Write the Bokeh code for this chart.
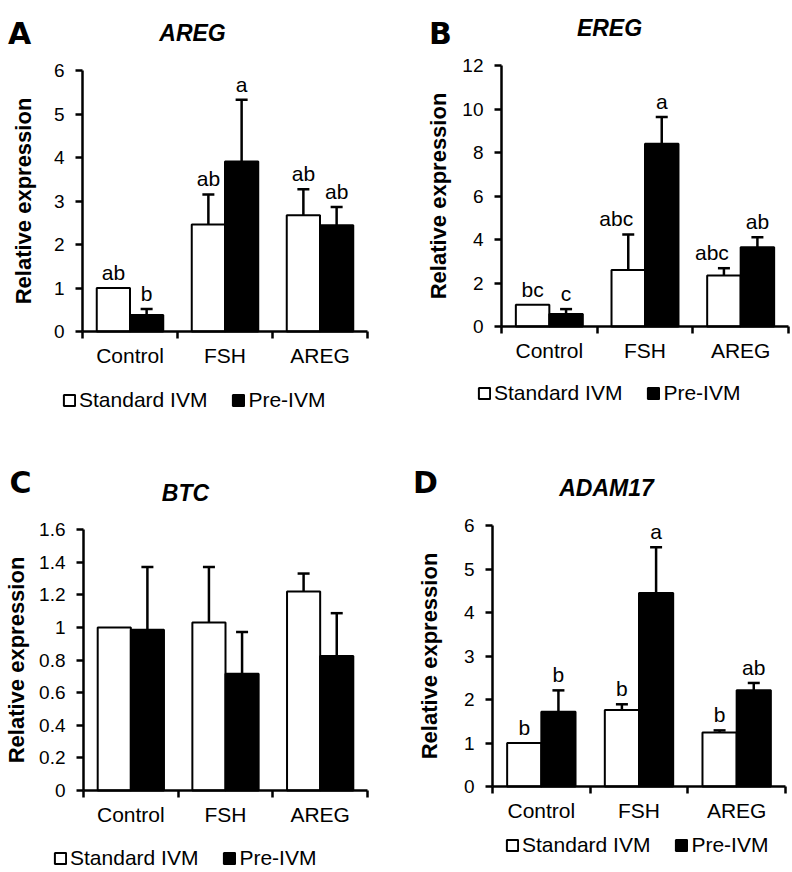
import numpy as np
from bokeh.plotting import figure
from bokeh.models import (ColumnDataSource, FixedTicker, Whisker, TeeHead, Label,
                          Legend, LegendItem, Range1d, LinearAxis)
from bokeh.layouts import row, column
from bokeh.core.properties import value
from bokeh.embed import file_html
from bokeh.resources import INLINE

FONT = "Liberation Sans"

categories = ["Control", "FSH", "AREG"]
series_names = ["Standard IVM", "Pre-IVM"]

# ---- Panel A: AREG ----
areg_standard = [1.00, 2.46, 2.67]
areg_standard_sem = [0.00, 0.69, 0.60]
areg_pre = [0.38, 3.91, 2.44]
areg_pre_sem = [0.14, 1.42, 0.42]
areg_standard_letters = ["ab", "ab", "ab"]
areg_pre_letters = ["b", "a", "ab"]
areg_yticks = [0, 1, 2, 3, 4, 5, 6]
areg_ytick_labels = ["0", "1", "2", "3", "4", "5", "6"]

# ---- Panel B: EREG ----
ereg_standard = [1.00, 2.60, 2.34]
ereg_standard_sem = [0.00, 1.63, 0.34]
ereg_pre = [0.58, 8.40, 3.64]
ereg_pre_sem = [0.22, 1.23, 0.46]
ereg_standard_letters = ["bc", "abc", "abc"]
ereg_pre_letters = ["c", "a", "ab"]
ereg_yticks = [0, 2, 4, 6, 8, 10, 12]
ereg_ytick_labels = ["0", "2", "4", "6", "8", "10", "12"]

# ---- Panel C: BTC ----
btc_standard = [1.00, 1.03, 1.22]
btc_standard_sem = [0.00, 0.34, 0.11]
btc_pre = [0.985, 0.716, 0.824]
btc_pre_sem = [0.385, 0.255, 0.263]
btc_yticks = [0, 0.2, 0.4, 0.6, 0.8, 1.0, 1.2, 1.4, 1.6]
btc_ytick_labels = ["0", "0.2", "0.4", "0.6", "0.8", "1", "1.2", "1.4", "1.6"]

# ---- Panel D: ADAM17 ----
adam17_standard = [1.00, 1.76, 1.24]
adam17_standard_sem = [0.00, 0.13, 0.05]
adam17_pre = [1.72, 4.45, 2.21]
adam17_pre_sem = [0.49, 1.05, 0.17]
adam17_standard_letters = ["b", "b", "b"]
adam17_pre_letters = ["b", "a", "ab"]
adam17_yticks = [0, 1, 2, 3, 4, 5, 6]
adam17_ytick_labels = ["0", "1", "2", "3", "4", "5", "6"]

BW = 0.35  # bar width in category units


def make_panel(letter, title, std, std_sem, pre, pre_sem, std_letters, pre_letters,
               yticks, ytick_labels, g):
    w, h, fl, fr, ft, fb = g["w"], g["h"], g["fl"], g["fr"], g["ft"], g["fb"]
    ymax = yticks[-1]
    n = len(categories)
    pxx = (fr - fl) / n
    pxy = (fb - ft) / ymax
    # the plotting frame covers the whole canvas; the axes sit at x=0 / y=0
    x_range = Range1d(-fl / pxx, n + (w - fr) / pxx)
    y_range = Range1d(-(h - fb) / pxy, ymax + ft / pxy)
    p = figure(width=w, height=h, x_range=x_range, y_range=y_range,
               x_axis_type=None, y_axis_type=None,
               output_backend="svg", toolbar_location=None,
               min_border_left=0, min_border_right=0,
               min_border_top=0, min_border_bottom=0)
    p.outline_line_color = None
    p.grid.visible = False
    p.background_fill_color = "white"
    p.border_fill_color = "white"

    def to_data(fx, fy):
        return (fx - fl) / pxx, ymax - (fy - ft) / pxy

    idx = np.arange(n)
    renderers = []
    dxs = g.get("letter_dx", ([0] * n, [0] * n))
    for k, (vals, sems, lets, off, fill) in enumerate(
            ((std, std_sem, std_letters, -BW / 2, "white"),
             (pre, pre_sem, pre_letters, BW / 2, "black"))):
        xs = idx + 0.5 + off
        src = ColumnDataSource(dict(x=xs, top=vals))
        r = p.vbar(x="x", top="top", width=BW, bottom=0, source=src,
                   fill_color=fill, line_color="black", line_width=2)
        renderers.append(r)
        keep = [i for i in range(n) if sems[i] > 0]
        wsrc = ColumnDataSource(dict(x=[xs[i] for i in keep],
                                     lower=[vals[i] for i in keep],
                                     upper=[vals[i] + sems[i] for i in keep]))
        p.add_layout(Whisker(source=wsrc, base="x", lower="lower", upper="upper",
                             line_color="black", line_width=2.5,
                             upper_head=TeeHead(size=12, line_width=2.5, line_color="black"),
                             lower_head=None))
        if lets is not None:
            tsrc = ColumnDataSource(dict(x=xs, y=[vals[i] + sems[i] for i in range(n)],
                                         t=lets, dx=dxs[k]))
            p.text(x="x", y="y", text="t", source=tsrc, text_align="center",
                   text_baseline="bottom", y_offset=-4, x_offset="dx",
                   text_font=value(FONT),
                   text_font_size="21px", text_color="black")

    # y axis, fixed at x = 0
    yax = LinearAxis(fixed_location=0, bounds=(0, ymax))
    yax.ticker = FixedTicker(ticks=yticks)
    yax.major_label_overrides = {t: lab for t, lab in zip(yticks, ytick_labels)}
    yax.minor_tick_line_color = None
    yax.major_tick_out = 7
    yax.major_tick_in = 0
    yax.major_tick_line_width = 2.5
    yax.axis_line_width = 2.5
    yax.major_label_standoff = 11
    yax.major_label_text_font = FONT
    yax.major_label_text_font_size = "19px"
    yax.major_label_text_color = "black"
    yax.axis_label = "Relative expression"
    yax.axis_label_text_font = FONT
    yax.axis_label_text_font_style = "bold"
    yax.axis_label_text_font_size = "22px"
    yax.axis_label_text_color = "black"
    yax.axis_label_standoff = g["als"]
    p.add_layout(yax, "left")

    # x axis, fixed at y = 0
    xax = LinearAxis(fixed_location=0, bounds=(0, n))
    xax.ticker = FixedTicker(ticks=[i + 0.5 for i in range(n)],
                             minor_ticks=[float(i) for i in range(n + 1)])
    xax.major_label_overrides = {i + 0.5: c for i, c in enumerate(categories)}
    xax.major_tick_line_color = None
    xax.major_tick_out = 0
    xax.major_tick_in = 0
    xax.minor_tick_line_color = "black"
    xax.minor_tick_line_width = 2.5
    xax.minor_tick_out = 7
    xax.minor_tick_in = 0
    xax.axis_line_width = 2.5
    xax.major_label_standoff = 5
    xax.major_label_text_font = FONT
    xax.major_label_text_font_size = "21px"
    xax.major_label_text_color = "black"
    p.add_layout(xax, "below")

    # panel letter and gene title
    lx, ly = to_data(*g["letter"])
    p.add_layout(Label(x=lx, y=ly, text=letter, text_align="center",
                       text_baseline="alphabetic",
                       text_font="DejaVu Sans", text_font_style="bold",
                       text_font_size="30px", text_color="black"))
    tx, ty = to_data(*g["title"])
    p.add_layout(Label(x=tx, y=ty, text=title, text_align="center", text_baseline="middle",
                       text_font=FONT, text_font_style="bold italic",
                       text_font_size="23px", text_color="black"))

    # legend (frame == canvas, so location is in canvas pixels from bottom-left)
    LH = 24
    sqx, tcy = g["legend"]
    legend = Legend(items=[LegendItem(label=series_names[0], renderers=[renderers[0]]),
                           LegendItem(label=series_names[1], renderers=[renderers[1]])],
                    orientation="horizontal",
                    location=(sqx, h - tcy - LH / 2),
                    glyph_width=14, glyph_height=14, label_standoff=3, spacing=24,
                    padding=0, margin=0, border_line_color=None,
                    background_fill_alpha=0, label_text_font=FONT,
                    label_text_font_size="21px", label_text_color="black",
                    label_height=14)
    p.add_layout(legend)
    return p


# geometry in canvas pixels of each panel (frame left/right/top/bottom of the axes)
gA = dict(w=394, h=430, fl=82, fr=367, ft=70, fb=331, als=15,
          letter=(19, 33), title=(192, 32), legend=(62, 400))
gB = dict(w=398, h=430, fl=107, fr=394, ft=65, fb=326, als=8,
          letter=(46, 33), title=(215, 27), legend=(83, 393),
          letter_dx=([0, -12, -12], [0, 0, 0]))
gC = dict(w=394, h=442, fl=83, fr=367, ft=99, fb=360, als=7,
          letter=(20, 52), title=(185, 62), legend=(53, 428))
gD = dict(w=398, h=442, fl=98, fr=391, ft=95, fb=356, als=19,
          letter=(31, 52), title=(212, 57), legend=(111, 415))

pA = make_panel("A", "AREG", areg_standard, areg_standard_sem, areg_pre, areg_pre_sem,
                areg_standard_letters, areg_pre_letters, areg_yticks, areg_ytick_labels, gA)
pB = make_panel("B", "EREG", ereg_standard, ereg_standard_sem, ereg_pre, ereg_pre_sem,
                ereg_standard_letters, ereg_pre_letters, ereg_yticks, ereg_ytick_labels, gB)
pC = make_panel("C", "BTC", btc_standard, btc_standard_sem, btc_pre, btc_pre_sem,
                None, None, btc_yticks, btc_ytick_labels, gC)
pD = make_panel("D", "ADAM17", adam17_standard, adam17_standard_sem, adam17_pre, adam17_pre_sem,
                adam17_standard_letters, adam17_pre_letters, adam17_yticks, adam17_ytick_labels, gD)

layout = column(row(pA, pB), row(pC, pD))
open("out.html", "w").write(file_html(layout, INLINE))
